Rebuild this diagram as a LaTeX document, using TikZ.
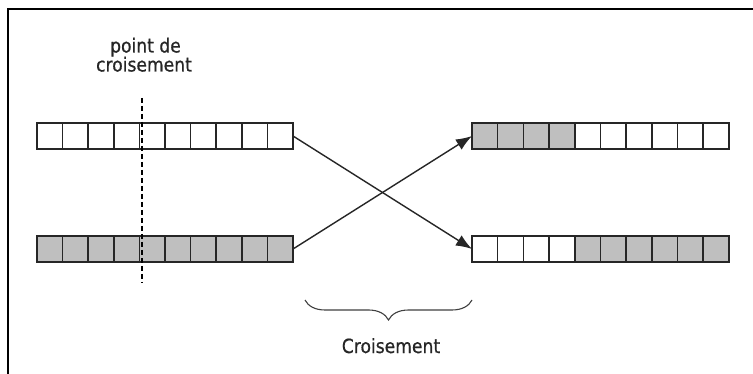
\documentclass[tikz,border=0pt]{standalone}
\usepackage{fontspec}
\newfontfamily\labfont[FakeStretch=0.88,FakeBold=0.6]{DejaVu Sans}
\usetikzlibrary{arrows.meta,decorations.pathreplacing}
\begin{document}
\begin{tikzpicture}[x=1pt,y=-1pt,
  cell/.style={draw=black!85, line width=1.5pt, minimum width=25.6pt, minimum height=26pt, inner sep=0pt, outer sep=0pt, anchor=west},
  greycell/.style={fill=black!25},
  whitecell/.style={fill=white},
  lab/.style={font=\labfont\fontsize{19.5}{20}\selectfont, text=black!85, inner sep=0pt, anchor=base},
  arrow/.style={line width=1.4pt, draw=black!85, -{Latex[length=16pt,width=12pt]}}]
\useasboundingbox (0,0) rectangle (753,374);
\fill[white] (0,0) rectangle (753,374);
% frame
\draw[line width=2.2pt] (8,400) -- (8,9) -- (780,9);
% left top row
\foreach \i in {1,...,10}
  \node[cell,whitecell] (a\i) at ({37+(\i-1)*25.6},136) {};
% left bottom row
\foreach \i in {1,...,10}
  \node[cell,greycell] (b\i) at ({37+(\i-1)*25.6},249) {};
% right top row
\foreach \i in {1,...,4}
  \node[cell,greycell] (c\i) at ({472+(\i-1)*25.7},136) {};
\foreach \i in {5,...,10}
  \node[cell,whitecell] (c\i) at ({472+(\i-1)*25.7},136) {};
% right bottom row
\foreach \i in {1,...,4}
  \node[cell,whitecell] (d\i) at ({472+(\i-1)*25.7},249) {};
\foreach \i in {5,...,10}
  \node[cell,greycell] (d\i) at ({472+(\i-1)*25.7},249) {};
% crossover point
\coordinate (dtop) at (142,98);
\coordinate (dbot) at (142,283);
\draw[line width=1.2pt, dash pattern=on 5pt off 3pt] (dtop) -- (dbot);
\node[lab] (t1) at (145.5,52.5) {point de};
\node[lab] (t2) at (144,71.5) {croisement};
% arrows
\draw[arrow] (a10.east) -- (d1.west);
\draw[arrow] (b10.east) -- (c1.west);
% brace
\coordinate (br1) at (305,300);
\coordinate (br2) at (472,300);
\draw[line width=1.1pt, draw=black!75, decorate, decoration={brace, amplitude=20pt, mirror}] (br1) -- (br2);
\node[lab] (t3) at (391,353) {Croisement};
\end{tikzpicture}
\end{document}
